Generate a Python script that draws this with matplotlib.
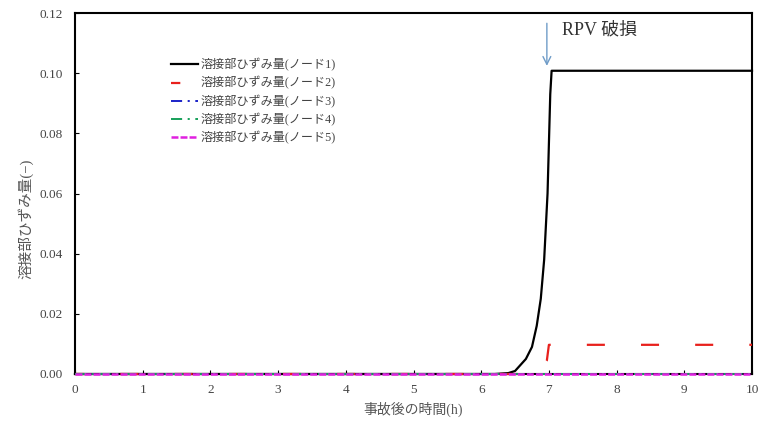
import matplotlib
matplotlib.use("Agg")
import matplotlib.pyplot as plt

plt.rcParams['font.family'] = ['Liberation Serif', 'Noto Sans CJK JP']
plt.rcParams['lines.scale_dashes'] = False

# データ
t1 = [0, 6.2, 6.4, 6.5, 6.66, 6.75, 6.82, 6.88, 6.93, 6.98, 7.02, 7.04, 10]
y1 = [0, 0, 0.0003, 0.001, 0.005, 0.009, 0.016, 0.025, 0.038, 0.060, 0.093, 0.1008, 0.1008]
t2 = [0, 6.84, 6.97, 7.0, 10]
y2 = [0, 0, 0.0045, 0.0097, 0.0097]
t3 = [0, 10]
y3 = [0, 0]
t4 = [0, 10]
y4 = [0, 0]
t5 = [0, 10]
y5 = [0, 0]
labels = ['溶接部ひずみ量(ノード1)', '溶接部ひずみ量(ノード2)', '溶接部ひずみ量(ノード3)',
          '溶接部ひずみ量(ノード4)', '溶接部ひずみ量(ノード5)']
xticks = list(range(0, 11))
yticks = [0.00, 0.02, 0.04, 0.06, 0.08, 0.10, 0.12]

fig = plt.figure(figsize=(7.58, 4.21), dpi=100)
ax = fig.add_axes([75 / 758, 47 / 421, 677 / 758, 361 / 421])

kw = dict(clip_on=False, zorder=3)
ax.plot(t1, y1, color='black', linewidth=1.6, label=labels[0], **kw)
ax.plot(t2, y2, color='#e8201c', linewidth=1.6, linestyle=(6.3, (13, 26)), label=labels[1], **kw)
ax.plot(t3, y3, color='#1a23c8', linewidth=1.4, dashes=(8, 4, 1.5, 4), label=labels[2], **kw)
ax.plot(t4, y4, color='#17a05a', linewidth=1.4, dashes=(8, 4, 1.5, 4), label=labels[3], **kw)
ax.plot(t5, y5, color='#e020e0', linewidth=1.8, dashes=(5, 1.5), label=labels[4], **kw)

# RPV破損の矢印
ax.annotate('', xy=(6.97, 0.1015), xytext=(6.97, 0.1175),
            arrowprops=dict(arrowstyle='->', color='#6f9cc8', lw=1.0, mutation_scale=14))
ax.text(7.19, 0.1145, 'RPV 破損', fontsize=13, color='#333333', va='center', ha='left')

ax.set_xlim(0, 10)
ax.set_ylim(0, 0.12)
ax.set_xticks(xticks)
ax.set_yticks(yticks)
ax.set_yticklabels(['%.2f' % v for v in yticks])
ax.tick_params(direction='in', length=3, width=0.8, labelsize=9.5, labelcolor='#444444')
ax.tick_params(axis='y', pad=8.5)
ax.tick_params(axis='x', pad=7)
for s in ax.spines.values():
    s.set_linewidth(1.5)

ax.set_xlabel('事故後の時間(h)', fontsize=10, color='#555555')
ax.xaxis.set_label_coords(0.5, -0.078)
ax.set_ylabel('溶接部ひずみ量(−)', fontsize=10.5, color='#555555')
ax.yaxis.set_label_coords(-0.062, 0.43)

leg = ax.legend(loc='upper left', bbox_to_anchor=(0.125, 0.905), frameon=False,
                fontsize=8.7, handlelength=2.3, handletextpad=0.2, labelspacing=0.42)
for txt in leg.get_texts():
    txt.set_color('#444444')

fig.savefig('out.png', dpi=100)
